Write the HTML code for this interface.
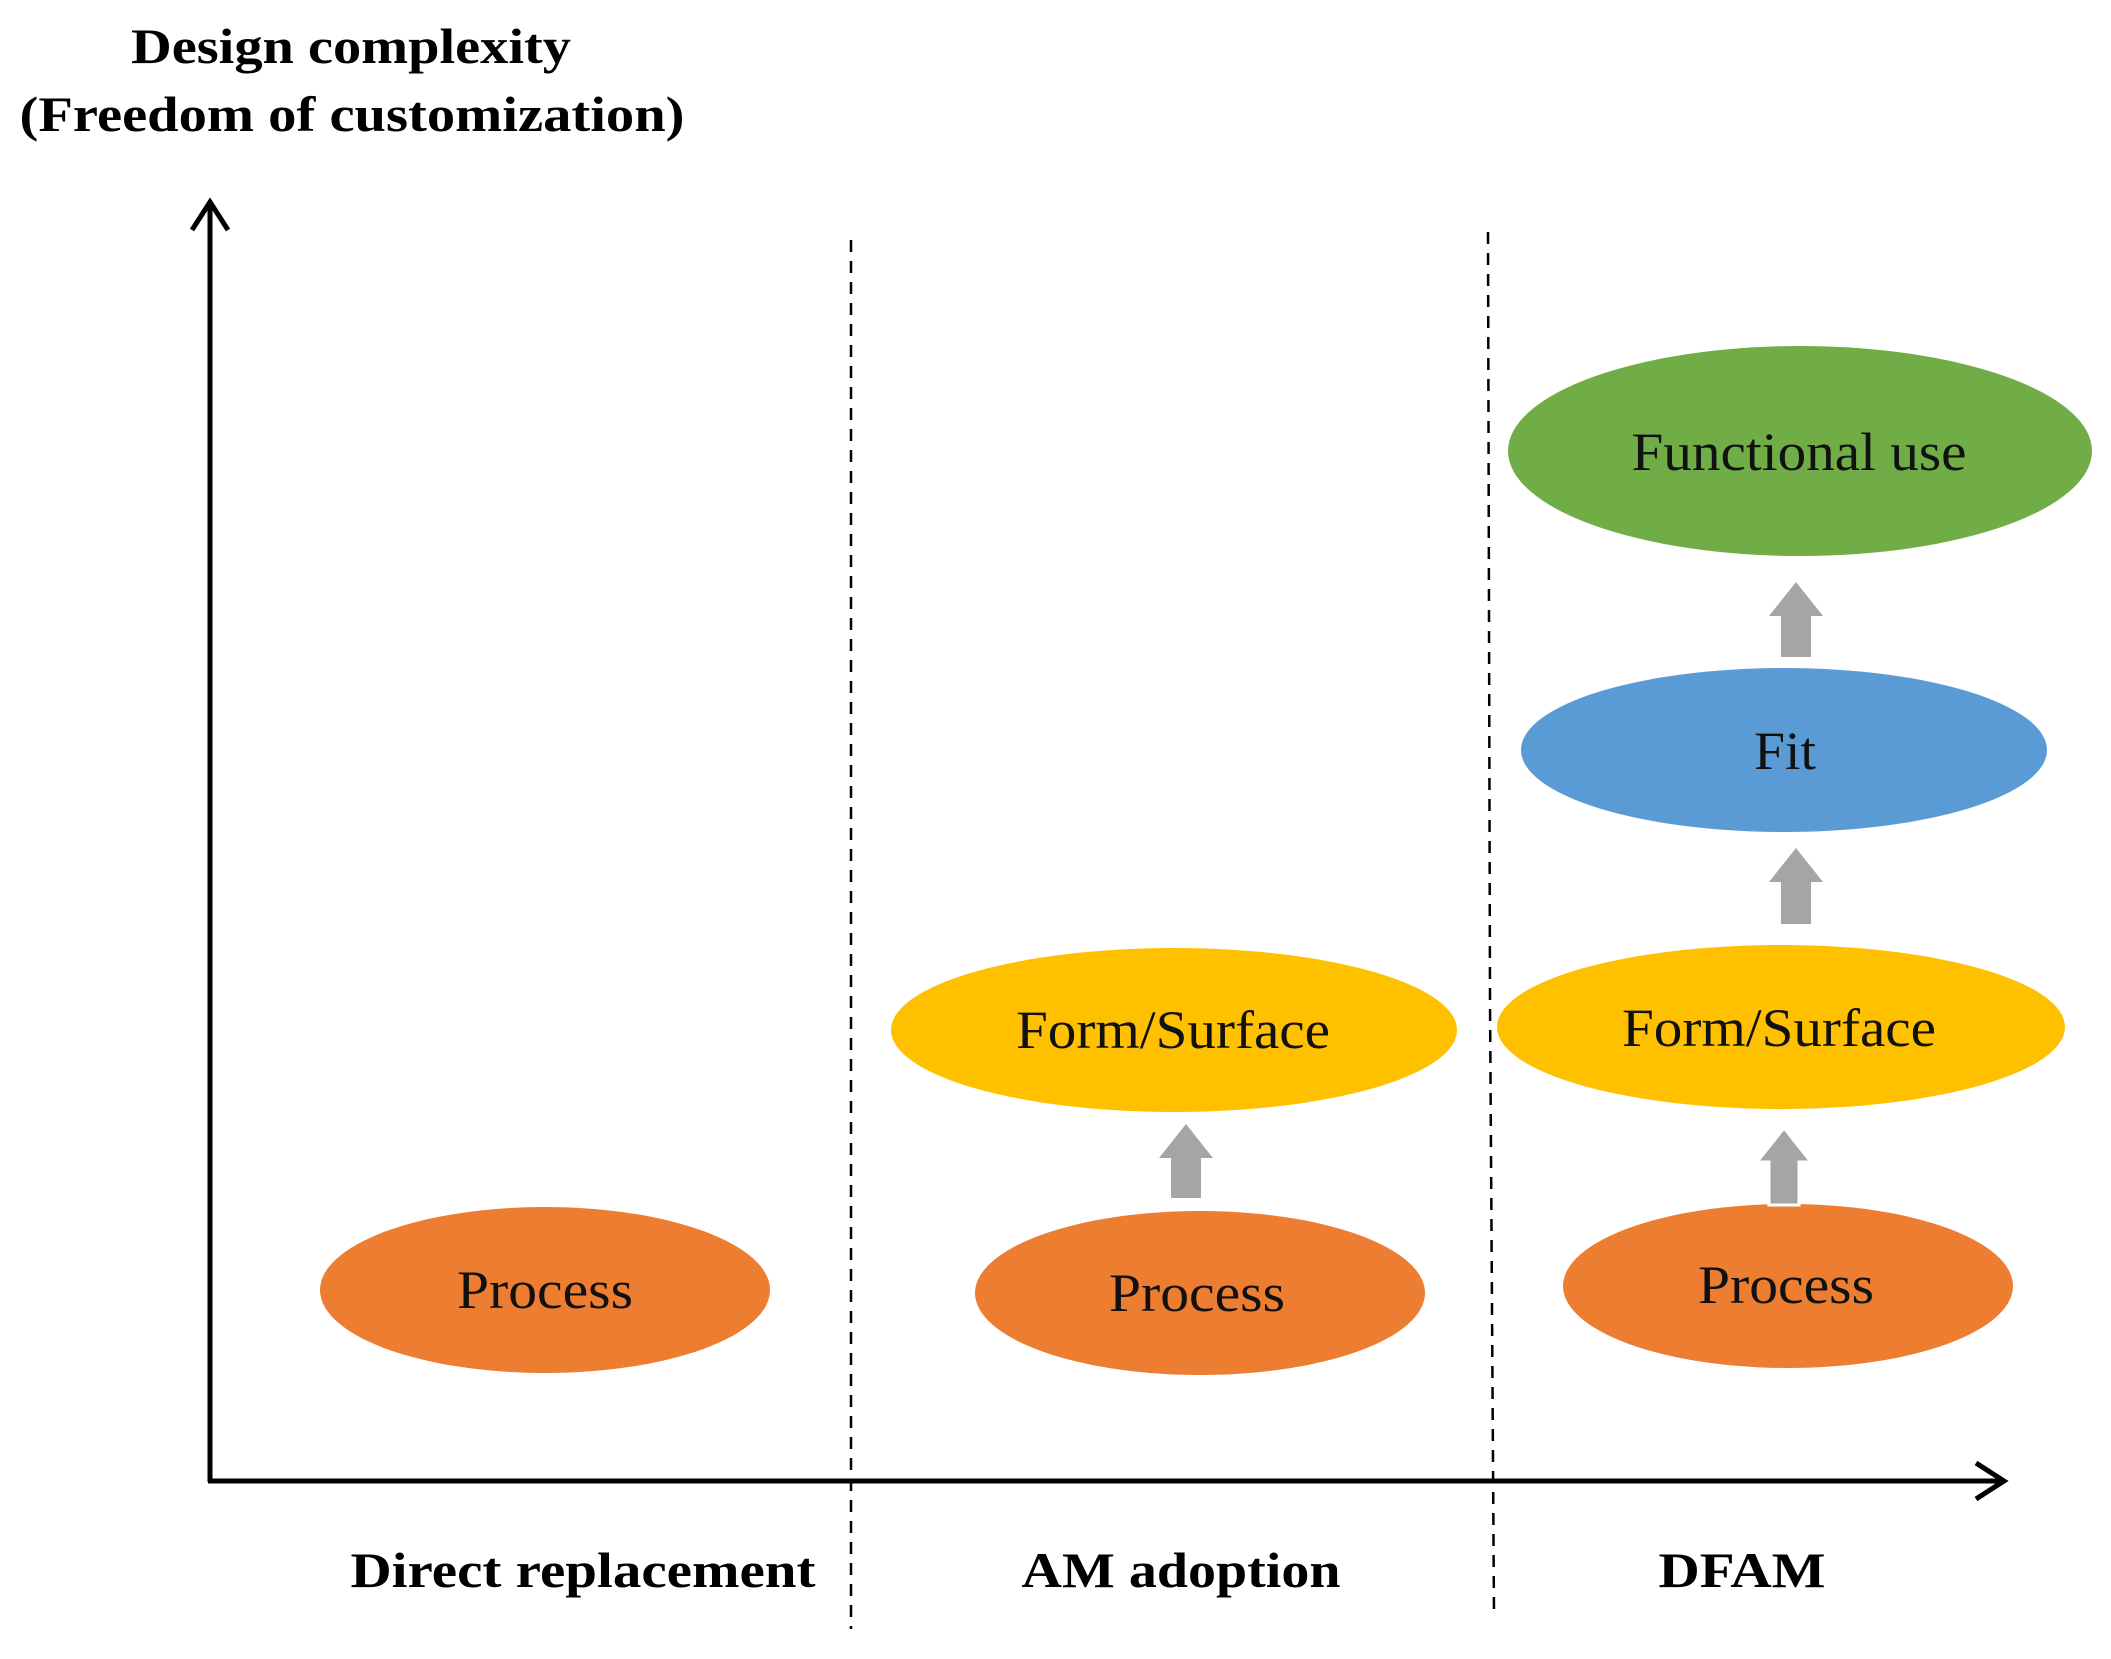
<!DOCTYPE html>
<html><head><meta charset="utf-8"><style>html,body{margin:0;padding:0;background:#fff}svg{display:block}</style></head>
<body>
<svg width="2111" height="1659" viewBox="0 0 2111 1659" xmlns="http://www.w3.org/2000/svg" font-family="Liberation Serif, serif">
<rect width="2111" height="1659" fill="#fff"/>
<g font-weight="bold" font-size="50" text-anchor="middle" fill="#000">
<text x="351" y="63" textLength="440" lengthAdjust="spacingAndGlyphs">Design complexity</text>
<text x="352" y="131" textLength="665" lengthAdjust="spacingAndGlyphs">(Freedom of customization)</text>
<text x="583" y="1587" textLength="465" lengthAdjust="spacingAndGlyphs">Direct replacement</text>
<text x="1181" y="1587" textLength="319" lengthAdjust="spacingAndGlyphs">AM adoption</text>
<text x="1742" y="1587" textLength="167" lengthAdjust="spacingAndGlyphs">DFAM</text>
</g>
<g stroke="#000" stroke-width="2.5" stroke-dasharray="12,9" fill="none">
<line x1="851" y1="240" x2="851" y2="1629"/>
<path d="M1488 232 L1490 1000 L1494 1616"/>
</g>
<g stroke="#000" stroke-width="5" fill="none">
<line x1="210" y1="203" x2="210" y2="1482"/>
<line x1="208" y1="1481" x2="2004" y2="1481"/>
<path d="M192 230 L210 202 L228 230" stroke-linejoin="miter"/>
<path d="M1976 1463 L2004 1481 L1976 1499"/>
</g>
<g>
<ellipse cx="545" cy="1290" rx="225" ry="83" fill="#ED7D31"/>
<ellipse cx="1200" cy="1293" rx="225" ry="82" fill="#ED7D31"/>
<ellipse cx="1174" cy="1030" rx="283" ry="82" fill="#FFC000"/>
<ellipse cx="1788" cy="1286" rx="225" ry="82" fill="#ED7D31"/>
<ellipse cx="1781" cy="1027" rx="284" ry="82" fill="#FFC000"/>
<ellipse cx="1784" cy="750" rx="263" ry="82" fill="#5B9BD5"/>
<ellipse cx="1800" cy="451" rx="292" ry="105" fill="#70AD47"/>
</g>
<g fill="#A5A5A5">
<path d="M1171 1198 V1158 H1159 L1186 1124 L1213 1158 H1201 V1198 Z"/>
<path d="M1769 1205 V1162 H1757 L1784 1128 L1811 1162 H1799 V1205 Z" stroke="#fff" stroke-width="3"/>
<path d="M1781 924 V882 H1769 L1796 848 L1823 882 H1811 V924 Z"/>
<path d="M1781 657 V616 H1769 L1796 582 L1823 616 H1811 V657 Z"/>
</g>
<g font-size="54" text-anchor="middle" fill="#111">
<text x="545" y="1308" textLength="176" lengthAdjust="spacingAndGlyphs">Process</text>
<text x="1197" y="1311" textLength="176" lengthAdjust="spacingAndGlyphs">Process</text>
<text x="1786" y="1303" textLength="176" lengthAdjust="spacingAndGlyphs">Process</text>
<text x="1173" y="1048" textLength="314" lengthAdjust="spacingAndGlyphs">Form/Surface</text>
<text x="1779" y="1046" textLength="314" lengthAdjust="spacingAndGlyphs">Form/Surface</text>
<text x="1785" y="769" textLength="62" lengthAdjust="spacingAndGlyphs">Fit</text>
<text x="1799" y="470" textLength="335" lengthAdjust="spacingAndGlyphs">Functional use</text>
</g>
</svg>
</body></html>
